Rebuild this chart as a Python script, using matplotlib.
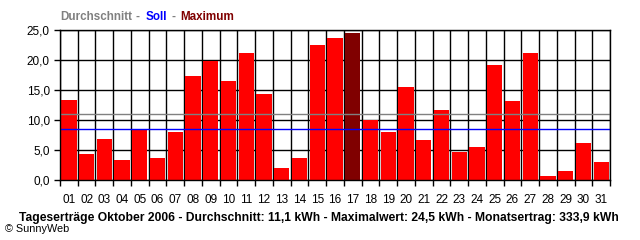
import matplotlib
matplotlib.use('Agg')
import matplotlib.pyplot as plt
import numpy as np

plt.rcParams['font.family'] = ['Liberation Sans', 'DejaVu Sans']

# daily yields, October 2006 (kWh)
days = ['%02d' % d for d in range(1, 32)]
yields = [13.3, 4.4, 6.8, 3.3, 8.3, 3.7, 8.0, 17.3, 19.9, 16.5, 21.2, 14.3, 2.0, 3.7,
          22.5, 23.7, 24.5, 10.0, 8.0, 15.5, 6.7, 11.7, 4.7, 5.5, 19.2, 13.2, 21.2,
          0.7, 1.5, 6.2, 3.0]
average = 11.0
target = 8.55
y_ticks = [0, 5, 10, 15, 20, 25]
y_labels = ['0,0', '5,0', '10,0', '15,0', '20,0', '25,0']

fig = plt.figure(figsize=(6.4, 2.4), dpi=100)
ax = fig.add_axes([60 / 640, 60 / 240, 550 / 640, 150 / 240])

x = np.arange(1, len(days) + 1)
imax = int(np.argmax(yields))
colors = ['#ff0000'] * len(yields)
colors[imax] = '#800000'
ax.bar(x, yields, width=0.86, color=colors, zorder=3)

# average (grey) and target (blue) lines drawn over the bars
ax.axhline(average, color='#808080', lw=1, zorder=4)
ax.axhline(target, color='#0000ff', lw=1, zorder=4)

ax.set_xlim(0.5, len(days) + 0.5)
ax.set_ylim(0, 25)
ax.set_yticks(y_ticks)
ax.set_yticklabels(y_labels, fontsize=8.5)
ax.set_xticks(x)
ax.set_xticklabels(days, fontsize=8.5)
ax.set_xticks(np.arange(0.5, len(days) + 1), minor=True)
ax.tick_params(axis='x', which='major', length=0, pad=10)
ax.tick_params(axis='x', which='minor', length=4.5, width=1, direction='out')
ax.tick_params(axis='y', length=4.3, width=1, pad=3)
ax.grid(True, axis='y', which='major', color='black', lw=1, zorder=1)
ax.grid(True, axis='x', which='minor', color='black', lw=1, zorder=1)
ax.set_axisbelow(True)
for s in ax.spines.values():
    s.set_linewidth(1)
    s.set_zorder(5)

# legend-like title
ty = 1 - 17 / 240
fig.text(60 / 640, ty, 'Durchschnitt', color='#808080', fontsize=8.4, fontweight='bold', va='center')
fig.text(136 / 640, ty, '-', color='#808080', fontsize=8.4, fontweight='bold', va='center')
fig.text(146 / 640, ty, 'Soll', color='#0000ff', fontsize=8.4, fontweight='bold', va='center')
fig.text(171 / 640, ty, '-', color='#808080', fontsize=8.4, fontweight='bold', va='center')
fig.text(180 / 640, ty, 'Maximum', color='#800000', fontsize=8.4, fontweight='bold', va='center')

fig.text(19 / 640, 1 - 217.5 / 240,
         'Tageserträge Oktober 2006 - Durchschnitt: 11,1 kWh - Maximalwert: 24,5 kWh - Monatsertrag: 333,9 kWh',
         fontsize=8.7, fontweight='bold', va='center')
fig.text(5 / 640, 1 - 229 / 240, '© SunnyWeb', fontsize=7.8, va='center')

fig.savefig('out.png', dpi=100)
